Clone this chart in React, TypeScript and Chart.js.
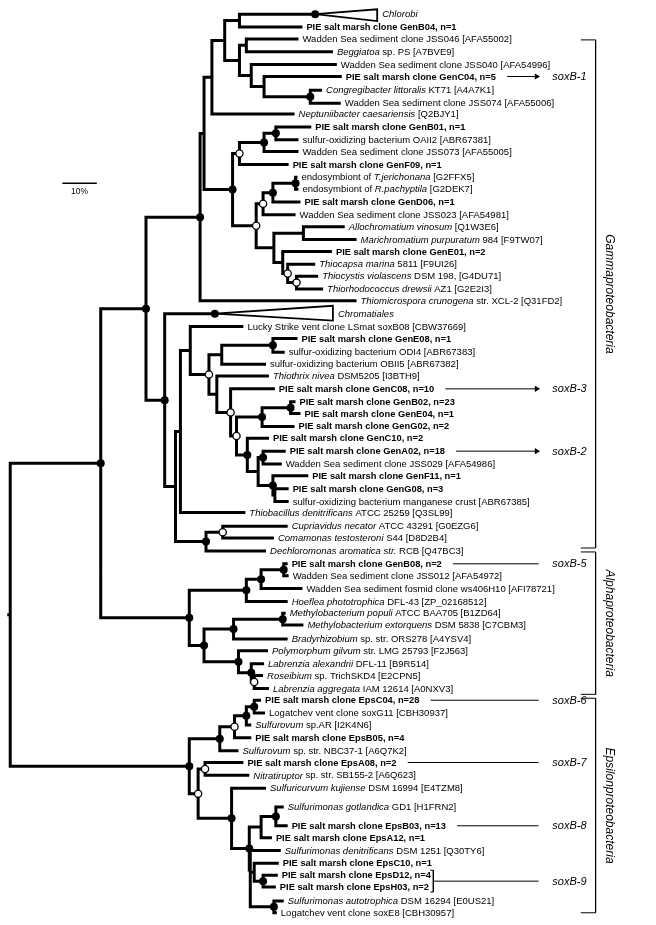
import { useEffect, useRef } from "react";
import { Chart, registerables } from "chart.js";

Chart.register(...registerables);

// ---------- DATA ----------
// Leaf labels ("*" toggles italic; PIE clones are bold)
const leafLabels: string[] = [
  "PIE salt marsh clone GenB04, n=1",
  "Wadden Sea sediment clone JSS046 [AFA55002]",
  "*Beggiatoa* sp. PS [A7BVE9]",
  "Wadden Sea sediment clone JSS040 [AFA54996]",
  "PIE salt marsh clone GenC04, n=5",
  "*Congregibacter littoralis* KT71 [A4A7K1]",
  "Wadden Sea sediment clone JSS074 [AFA55006]",
  "*Neptuniibacter caesariensis* [Q2BJY1]",
  "PIE salt marsh clone GenB01, n=1",
  "sulfur-oxidizing bacterium OAII2 [ABR67381]",
  "Wadden Sea sediment clone JSS073 [AFA55005]",
  "PIE salt marsh clone GenF09, n=1",
  "endosymbiont of *T.jerichonana* [G2FFX5]",
  "endosymbiont of *R.pachyptila* [G2DEK7]",
  "PIE salt marsh clone GenD06, n=1",
  "Wadden Sea sediment clone JSS023 [AFA54981]",
  "*Allochromatium vinosum* [Q1W3E6]",
  "*Marichromatium purpuratum* 984 [F9TW07]",
  "PIE salt marsh clone GenE01, n=2",
  "*Thiocapsa marina* 5811 [F9UI26]",
  "*Thiocystis violascens* DSM 198, [G4DU71]",
  "*Thiorhodococcus drewsii* AZ1 [G2E2I3]",
  "*Thiomicrospora crunogena* str. XCL-2 [Q31FD2]",
  "Lucky Strike vent clone LSmat soxB08 [CBW37669]",
  "PIE salt marsh clone GenE08, n=1",
  "sulfur-oxidizing bacterium ODI4 [ABR67383]",
  "sulfur-oxidizing bacterium OBII5 [ABR67382]",
  "*Thiothrix nivea* DSM5205 [I3BTH9]",
  "PIE salt marsh clone GenC08, n=10",
  "PIE salt marsh clone GenB02, n=23",
  "PIE salt marsh clone GenE04, n=1",
  "PIE salt marsh clone GenG02, n=2",
  "PIE salt marsh clone GenC10, n=2",
  "PIE salt marsh clone GenA02, n=18",
  "Wadden Sea sediment clone JSS029 [AFA54986]",
  "PIE salt marsh clone GenF11, n=1",
  "PIE salt marsh clone GenG08, n=3",
  "sulfur-oxidizing bacterium manganese crust [ABR67385]",
  "*Thiobacillus denitrificans* ATCC 25259 [Q3SL99]",
  "*Cupriavidus necator* ATCC 43291 [G0EZG6]",
  "*Comamonas testosteroni* S44 [D8D2B4]",
  "*Dechloromonas aromatica str.* RCB [Q47BC3]",
  "PIE salt marsh clone GenB08, n=2",
  "Wadden Sea sediment clone JSS012 [AFA54972]",
  "Wadden Sea sediment fosmid clone ws406H10 [AFI78721]",
  "*Hoeflea phototrophica* DFL-43 [ZP_02168512]",
  "*Methylobacterium populi* ATCC BAA705 [B1ZD64]",
  "*Methylobacterium extorquens* DSM 5838 [C7CBM3]",
  "*Bradyrhizobium* sp. str. ORS278 [A4YSV4]",
  "*Polymorphum gilvum* str. LMG 25793 [F2J563]",
  "*Labrenzia alexandrii* DFL-11 [B9R514]",
  "*Roseibium* sp. TrichSKD4 [E2CPN5]",
  "*Labrenzia aggregata* IAM 12614 [A0NXV3]",
  "PIE salt marsh clone EpsC04, n=28",
  "Logatchev vent clone soxG11 [CBH30937]",
  "*Sulfurovum* sp.AR [I2K4N6]",
  "PIE salt marsh clone EpsB05, n=4",
  "*Sulfurovum* sp. str. NBC37-1 [A6Q7K2]",
  "PIE salt marsh clone EpsA08, n=2",
  "*Nitratiruptor* sp. str. SB155-2 [A6Q623]",
  "*Sulfuricurvum kujiense* DSM 16994 [E4TZM8]",
  "*Sulfurimonas gotlandica* GD1 [H1FRN2]",
  "PIE salt marsh clone EpsB03, n=13",
  "PIE salt marsh clone EpsA12, n=1",
  "*Sulfurimonas denitrificans* DSM 1251 [Q30TY6]",
  "PIE salt marsh clone EpsC10, n=1",
  "PIE salt marsh clone EpsD12, n=4",
  "PIE salt marsh clone EpsH03, n=2",
  "*Sulfurimonas autotrophica* DSM 16294 [E0US21]",
  "Logatchev vent clone soxE8 [CBH30957]",
];

// leaf row positions (top to bottom)
const leafY: number[] = [
  22, 34, 47, 60, 72, 86, 99, 110, 123, 136, 148, 161, 174, 186, 199, 212, 224, 237, 249, 262,
  274, 287, 299, 325, 337, 351, 363, 375, 388, 401, 413, 426, 438, 451, 464, 476, 489, 502, 513, 527,
  539, 552, 565, 577, 590, 603, 615, 627, 641, 653, 666, 678, 691, 703, 716, 728, 741, 754, 766, 779,
  792, 811, 830, 842, 855, 868, 880, 892, 906, 918,
];

// leaf tip depth (cumulative branch length)
const leafTip: number[] = [
  302, 298, 333, 337, 342, 322, 341, 294, 311, 298, 298, 288, 297, 298, 300, 295, 345, 357, 332, 315,
  318, 323, 357, 242, 297, 284, 265, 268, 274, 295, 300, 294, 268, 285, 281, 308, 288, 288, 244, 287,
  273, 265, 287, 288, 302, 287, 285, 303, 287, 267, 263, 262, 268, 260, 264, 250, 250, 237, 242, 248,
  265, 283, 287, 271, 280, 278, 277, 275, 283, 276,
];

// collapsed clades
const cladeLabels = ["*Chlorobi*", "*Chromatiales*"];
const cladeRootX = [315, 213];
const cladeTipX = [378, 333];
const cladeY = [9, 312];
const cladeTop = [4, 304];
const cladeBottom = [16, 319];
const cladeMark = ["f", "f"];

// internal nodes: id, depth, children, support marker (f = filled, o = open)
const nodeIds = [
  "nA", "nJ", "nF", "nE", "nD", "nC", "nB", "nP", "nW", "nV", "nT", "nZZ", "nZ", "nX", "nAA", "nDD",
  "nCC", "nBB", "nY", "nU", "nS", "nQ", "nR", "nN1a", "nN1", "nN5a", "nN5", "nN8", "nN9b", "nN9",
  "nN7", "nN6", "nN4", "nN3", "nN2", "nNN", "nMM", "nOO", "nPP1", "nPP", "nKK", "nHH", "nGG",
  "nTT", "nSS", "nQQ", "nWW", "nUU", "nYY", "nXX", "nVV", "nRR", "nAl", "nR2",
  "nE1c", "nE1b", "nE1a", "nE1", "nE3", "nE8", "nE6", "nE11", "nE9", "nE12", "nE5c", "nE5b", "nE5",
  "nE4", "nE2", "nEp", "nRt",
];
const nodeX = [
  238, 245, 310, 263, 250, 238, 223, 210, 275, 263, 238, 295, 272, 262, 303, 296,
  287, 282, 273, 255, 231, 202, 198, 272, 220, 290, 261, 262, 274, 272,
  257, 246, 235, 229, 215, 207, 188, 178, 221, 204, 173, 162, 143,
  283, 260, 245, 282, 232, 253, 250, 237, 202, 187, 97,
  253, 245, 233, 218, 203, 275, 260, 262, 253, 273, 249, 249, 248,
  230, 196, 187, 5,
];
const nodeKids = [
  ["C0", "L0"], ["L1", "L2"], ["L5", "L6"], ["L4", "nF"], ["L3", "nE"], ["nJ", "nD"], ["nA", "nC"],
  ["nB", "L7"], ["L8", "L9"], ["nW", "L10"], ["nV", "L11"], ["L12", "L13"], ["nZZ", "L14"],
  ["nZ", "L15"], ["L16", "L17"], ["L20", "L21"], ["L19", "nDD"], ["L18", "nCC"], ["nAA", "nBB"],
  ["nX", "nY"], ["nT", "nU"], ["nP", "nS"], ["nQ", "L22"], ["L24", "L25"], ["nN1a", "L26"],
  ["L29", "L30"], ["nN5a", "L31"], ["L33", "L34"], ["L36", "L37"], ["L35", "nN9b"], ["nN8", "nN9"],
  ["L32", "nN7"], ["nN5", "nN6"], ["L28", "nN4"], ["L27", "nN3"], ["nN1", "nN2"], ["L23", "nNN"],
  ["nMM", "L38"], ["L39", "L40"], ["nPP1", "L41"], ["nOO", "nPP"], ["C1", "nKK"], ["nR", "nHH"],
  ["L42", "L43"], ["nTT", "L44"], ["nSS", "L45"], ["L46", "L47"], ["nWW", "L48"], ["L51", "L52"],
  ["L50", "nYY"], ["L49", "nXX"], ["nUU", "nVV"], ["nQQ", "nRR"], ["nGG", "nAl"],
  ["L53", "L54"], ["nE1c", "L55"], ["nE1b", "L56"], ["nE1a", "L57"], ["L58", "L59"], ["L61", "L62"],
  ["nE8", "L63"], ["L66", "L67"], ["L65", "nE11"], ["L68", "L69"], ["nE9", "nE12"], ["L64", "nE5c"],
  ["nE6", "nE5b"], ["L60", "nE5"], ["nE3", "nE4"], ["nE1", "nE2"], ["nR2", "nEp"],
];
const nodeMark = [
  "", "", "f", "", "", "", "", "", "f", "f", "o", "f", "f", "o", "", "o",
  "o", "", "", "o", "f", "", "f", "f", "", "f", "f", "f", "", "f",
  "", "f", "o", "o", "", "o", "", "", "o", "f", "", "f", "f",
  "f", "f", "f", "f", "f", "o", "f", "f", "f", "f", "f",
  "f", "f", "o", "f", "o", "f", "", "f", "", "f", "", "", "f",
  "f", "o", "f", "",
];
const rootStubX = 2;

// soxB annotations
const soxNames = ["soxB-1", "soxB-3", "soxB-2", "soxB-5", "soxB-6", "soxB-7", "soxB-8", "soxB-9"];
const soxFirstLeaf = [4, 28, 33, 42, 53, 58, 62, 66];
const soxLastLeaf = [4, 28, 33, 42, 53, 58, 62, 67];
const soxArrow = [true, true, true, false, false, false, false, false];

// taxonomic groups
const groupNames = ["Gammaproteobacteria", "Alphaproteobacteria", "Epsilonproteobacteria"];
const groupTop = [35, 553, 701];
const groupBottom = [549, 697, 918];

// scale bar
const scaleBarFrom = 58;
const scaleBarTo = 93;
const scaleBarY = 180;
const scaleBarLabel = "10%";

// ---------- LAYOUT / STYLE ----------
const FONT = "'Liberation Sans', Arial, Helvetica, sans-serif";
const REG_SIZE = 9.5;
const BOLD_SIZE = 9.3;
const LABEL_GAP = 4;
const SOX_GAP = 14;
const ARROW_END = 542;
const SOX_LABEL_X = 556;
const GROUP_X = 600;
const GROUP_TICK_X = 585;
const GROUP_LABEL_X = 614;

const GAP = { x: NaN, y: NaN };

function isBold(label: string) {
  return label.startsWith("PIE salt marsh");
}
function sizeFor(label: string) {
  return isBold(label) ? BOLD_SIZE : REG_SIZE;
}

function richWidth(ctx: CanvasRenderingContext2D, text: string, size: number, bold: boolean) {
  let w = 0;
  text.split("*").forEach((p, i) => {
    ctx.font = `${i % 2 ? "italic " : ""}${bold ? "bold " : ""}${size}px ${FONT}`;
    w += ctx.measureText(p).width;
  });
  return w;
}

function drawRich(ctx: CanvasRenderingContext2D, text: string, x: number, y: number, size: number, bold: boolean) {
  let cx = x;
  text.split("*").forEach((p, i) => {
    ctx.font = `${i % 2 ? "italic " : ""}${bold ? "bold " : ""}${size}px ${FONT}`;
    ctx.fillText(p, cx, y);
    cx += ctx.measureText(p).width;
  });
}

export default function App() {
  const ref = useRef<HTMLCanvasElement>(null);

  useEffect(() => {
    document.body.style.margin = "0";
    const canvas = ref.current!;
    const mctx = document.createElement("canvas").getContext("2d")!;

    const nodeIndex = new Map<string, number>(nodeIds.map((id, i) => [id, i]));
    const yMemo = new Map<string, number>();
    const xOf = (k: string): number => {
      if (k[0] === "L") return leafTip[+k.slice(1)];
      if (k[0] === "C") return cladeRootX[+k.slice(1)];
      return nodeX[nodeIndex.get(k)!];
    };
    const yOf = (k: string): number => {
      if (k[0] === "L") return leafY[+k.slice(1)];
      if (k[0] === "C") return cladeY[+k.slice(1)];
      if (yMemo.has(k)) return yMemo.get(k)!;
      const ys = nodeKids[nodeIndex.get(k)!].map(yOf);
      const v = (Math.min(...ys) + Math.max(...ys)) / 2;
      yMemo.set(k, v);
      return v;
    };

    // branches
    const branchPts: { x: number; y: number }[] = [];
    nodeIds.forEach((id, i) => {
      const [k1, k2] = nodeKids[i];
      const y1 = yOf(k1);
      const y2 = yOf(k2);
      branchPts.push({ x: xOf(k1), y: y1 }, { x: nodeX[i], y: y1 }, { x: nodeX[i], y: y2 }, { x: xOf(k2), y: y2 }, GAP);
    });
    const rootY = yOf("nRt");
    branchPts.push({ x: rootStubX, y: rootY }, { x: nodeX[nodeIndex.get("nRt")!], y: rootY }, GAP);

    // clades
    const cladePts: { x: number; y: number }[] = [];
    cladeLabels.forEach((_, i) => {
      cladePts.push(
        { x: cladeRootX[i], y: cladeY[i] },
        { x: cladeTipX[i], y: cladeTop[i] },
        { x: cladeTipX[i], y: cladeBottom[i] },
        { x: cladeRootX[i], y: cladeY[i] },
        GAP
      );
    });

    // markers
    const filled: { x: number; y: number }[] = [];
    const open: { x: number; y: number }[] = [];
    nodeIds.forEach((id, i) => {
      if (nodeMark[i] === "f") filled.push({ x: nodeX[i], y: yOf(id) });
      if (nodeMark[i] === "o") open.push({ x: nodeX[i], y: yOf(id) });
    });
    cladeLabels.forEach((_, i) => {
      if (cladeMark[i] === "f") filled.push({ x: cladeRootX[i], y: cladeY[i] });
    });

    // annotations (scale is 1:1 with the canvas pixels)
    const labelEnd = (li: number) =>
      leafTip[li] + LABEL_GAP + richWidth(mctx, leafLabels[li], sizeFor(leafLabels[li]), isBold(leafLabels[li]));
    const thinPts: { x: number; y: number }[] = [];
    const arrowHeads: { x: number; y: number }[] = [];
    const soxY: number[] = [];
    soxNames.forEach((_, i) => {
      const f = soxFirstLeaf[i];
      const l = soxLastLeaf[i];
      const ya = (leafY[f] + leafY[l]) / 2;
      soxY.push(ya);
      let start: number;
      if (f === l) {
        start = labelEnd(f) + SOX_GAP;
      } else {
        const bx = Math.max(labelEnd(f), labelEnd(l)) + 5;
        thinPts.push(
          { x: bx - 3, y: leafY[f] - 5 },
          { x: bx, y: leafY[f] - 5 },
          { x: bx, y: leafY[l] + 5 },
          { x: bx - 3, y: leafY[l] + 5 },
          GAP
        );
        start = bx;
      }
      thinPts.push({ x: start, y: ya }, { x: soxArrow[i] ? ARROW_END - 3 : ARROW_END, y: ya }, GAP);
      if (soxArrow[i]) arrowHeads.push({ x: ARROW_END - 2, y: ya });
    });
    groupNames.forEach((_, i) => {
      thinPts.push(
        { x: GROUP_TICK_X, y: groupTop[i] },
        { x: GROUP_X, y: groupTop[i] },
        { x: GROUP_X, y: groupBottom[i] },
        { x: GROUP_TICK_X, y: groupBottom[i] },
        GAP
      );
    });

    const textPlugin = {
      id: "treeText",
      afterDatasetsDraw(chart: any) {
        const ctx: CanvasRenderingContext2D = chart.ctx;
        const xs = chart.scales.x;
        const ys = chart.scales.y;
        ctx.save();
        ctx.fillStyle = "#000";
        ctx.textBaseline = "middle";
        ctx.textAlign = "left";
        leafLabels.forEach((lab, i) => {
          drawRich(ctx, lab, xs.getPixelForValue(leafTip[i]) + LABEL_GAP, ys.getPixelForValue(leafY[i]) + 0.5, sizeFor(lab), isBold(lab));
        });
        cladeLabels.forEach((lab, i) => {
          drawRich(ctx, lab, xs.getPixelForValue(cladeTipX[i]) + 5, ys.getPixelForValue(cladeY[i]) + 0.5, REG_SIZE, false);
        });
        soxNames.forEach((s, i) => {
          ctx.font = `italic 11px ${FONT}`;
          ctx.fillText(s, xs.getPixelForValue(SOX_LABEL_X), ys.getPixelForValue(soxY[i]) + 0.5);
        });
        groupNames.forEach((g, i) => {
          const cy = ys.getPixelForValue((groupTop[i] + groupBottom[i]) / 2);
          ctx.save();
          ctx.translate(xs.getPixelForValue(GROUP_LABEL_X), cy);
          ctx.rotate(Math.PI / 2);
          ctx.textAlign = "center";
          ctx.font = `italic 12px ${FONT}`;
          ctx.fillText(g, 0, 0);
          ctx.restore();
        });
        ctx.textAlign = "center";
        ctx.textBaseline = "top";
        ctx.font = `8.5px ${FONT}`;
        ctx.fillText(scaleBarLabel, xs.getPixelForValue((scaleBarFrom + scaleBarTo) / 2), ys.getPixelForValue(scaleBarY) + 4);
        ctx.restore();
      },
    };

    const lineBase = {
      type: "line" as const,
      showLine: true,
      pointRadius: 0,
      pointHoverRadius: 0,
      borderColor: "#000",
      fill: false,
      tension: 0,
      spanGaps: false,
      borderJoinStyle: "miter" as const,
      borderCapStyle: "butt" as const,
    };

    const chart = new Chart(canvas, {
      type: "scatter",
      data: {
        datasets: [
          {
            data: filled,
            pointRadius: 4,
            pointBackgroundColor: "#000",
            pointBorderColor: "#000",
            pointBorderWidth: 0,
            showLine: false,
            order: 0,
          } as any,
          {
            data: open,
            pointRadius: 3.6,
            pointBackgroundColor: "#fff",
            pointBorderColor: "#000",
            pointBorderWidth: 1.3,
            showLine: false,
            order: 1,
          } as any,
          {
            data: arrowHeads,
            pointStyle: "triangle",
            rotation: 90,
            pointRadius: 3.5,
            pointBackgroundColor: "#000",
            pointBorderColor: "#000",
            pointBorderWidth: 0,
            showLine: false,
            order: 2,
          } as any,
          { ...lineBase, data: branchPts, borderWidth: 3, order: 3 } as any,
          { ...lineBase, data: cladePts, borderWidth: 1.8, order: 4 } as any,
          { ...lineBase, data: thinPts, borderWidth: 1, order: 5 } as any,
          {
            ...lineBase,
            data: [
              { x: scaleBarFrom, y: scaleBarY },
              { x: scaleBarTo, y: scaleBarY },
            ],
            borderWidth: 1.3,
            order: 6,
          } as any,
        ],
      },
      options: {
        responsive: false,
        animation: false,
        events: [],
        layout: { padding: 0 },
        plugins: { legend: { display: false }, tooltip: { enabled: false } },
        scales: {
          x: { type: "linear", min: 0, max: 656, display: false },
          y: { type: "linear", min: 0, max: 925, reverse: true, display: false },
        },
      },
      plugins: [textPlugin],
    });
    return () => chart.destroy();
  }, []);

  return (
    <div style={{ width: 656, height: 925, background: "#fff" }}>
      <canvas ref={ref} width={656} height={925} style={{ display: "block" }} />
    </div>
  );
}
